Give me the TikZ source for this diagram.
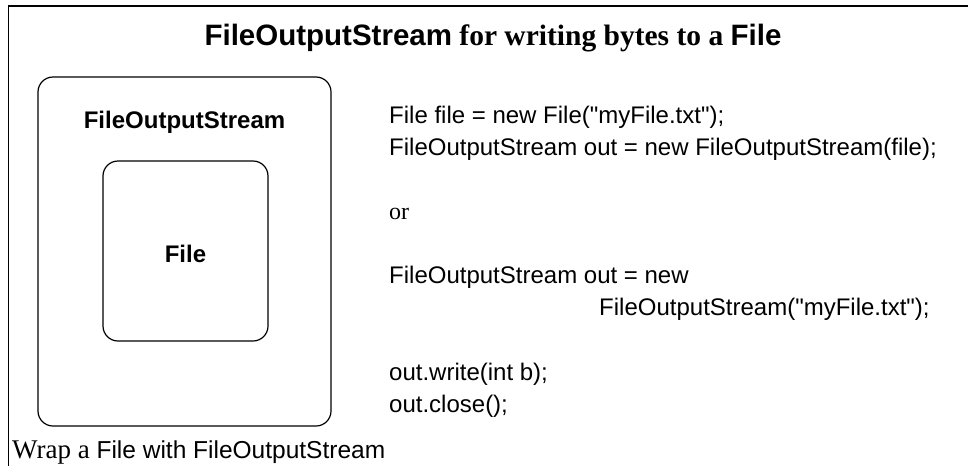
\documentclass[tikz,border=0pt]{standalone}
\usepackage{fontspec}
\setmainfont{Liberation Serif}
\setsansfont{Liberation Sans}
\newfontfamily\codefont{Liberation Sans}
\tikzset{
  box/.style={draw, rounded corners=15pt, line width=1.2pt, inner sep=0pt},
  codeline/.style={font=\codefont\fontsize{24}{24}\selectfont, anchor=base west, inner sep=0pt},
  boxlabel/.style={font=\sffamily\bfseries\fontsize{24}{24}\selectfont, anchor=base, inner sep=0pt}
}
\begin{document}
\begin{tikzpicture}[x=1pt, y=-1pt]
  \useasboundingbox (0,0) rectangle (968,466);
  % frame and title
  \draw[line width=1.5pt] (8.5,466) -- (8.5,6) -- (968,6);
  \node[anchor=base, inner sep=0pt, font=\bfseries\fontsize{29.5}{29.5}\selectfont] (title) at (493,45)
    {{\sffamily FileOutputStream} for writing bytes to a {\sffamily File}};
  % Left: File wrapped in a FileOutputStream
  \node[box, minimum width=293pt, minimum height=349pt] (stream) at (184.5,251.5) {};
  \node[box, minimum width=165pt, minimum height=180pt] (file) at (185.5,251) {};
  \node[boxlabel] (streamlabel) at (184.5,128) {FileOutputStream};
  \node[boxlabel] (filelabel) at (185.5,262) {File};
  % Right: code
  \node[codeline] (code1) at (389,123) {File file = new File("myFile.txt");};
  \node[codeline] (code2) at (389,155) {FileOutputStream out = new FileOutputStream(file);};
  \node[codeline, font=\rmfamily\fontsize{24}{24}\selectfont] (or) at (389,219) {or};
  \node[codeline] (code3) at (389,283) {FileOutputStream out = new};
  \node[codeline] (code4) at (599,315) {FileOutputStream("myFile.txt");};
  \node[codeline] (code5) at (389,380) {out.write(int b);};
  \node[codeline] (code6) at (389,412) {out.close();};
  % caption
  \node[anchor=base west, inner sep=0pt, font=\fontsize{27}{27}\selectfont] (caption) at (12,458)
    {Wrap a {\sffamily\fontsize{24.5}{24.5}\selectfont File with FileOutputStream}};
\end{tikzpicture}
\end{document}
